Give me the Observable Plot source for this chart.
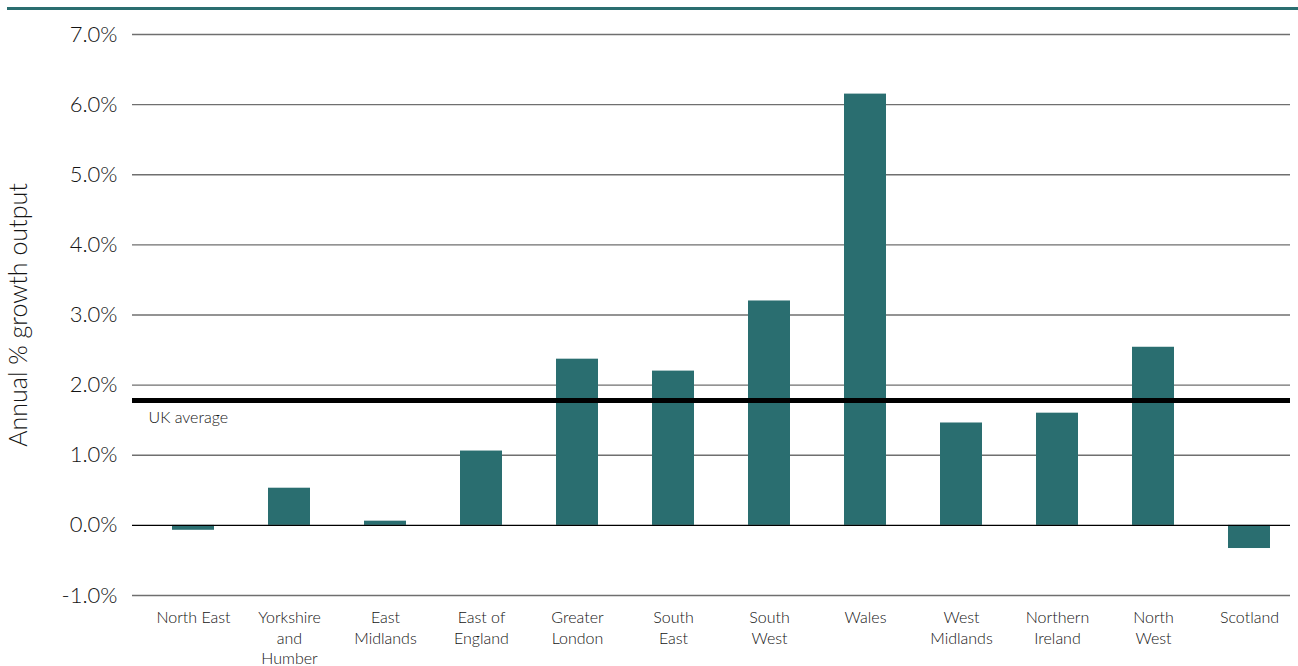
<!DOCTYPE html>
<html>
<head>
<meta charset="utf-8">
<script src="https://cdn.jsdelivr.net/npm/d3@7"></script>
<script src="https://cdn.jsdelivr.net/npm/@observablehq/plot@0.6"></script>
<style>
  html, body { margin: 0; padding: 0; background: #fff; }
  #wrap { position: relative; width: 1298px; height: 666px; }
  #topline { position: absolute; left: 7px; right: 0; top: 7px; height: 3px; background: #2a6e70; }
  svg { font-family: Lato, "Open Sans", sans-serif; }
</style>
</head>
<body>
<div id="wrap"><div id="topline"></div></div>
<script>
// Regions in display order
const regions = [
  "North East", "Yorkshire and Humber", "East Midlands", "East of England",
  "Greater London", "South East", "South West", "Wales",
  "West Midlands", "Northern Ireland", "North West", "Scotland"
];
// Axis labels for each region, broken over lines
const regionLabels = [
  "North East", "Yorkshire\nand\nHumber", "East\nMidlands", "East of\nEngland",
  "Greater\nLondon", "South\nEast", "South\nWest", "Wales",
  "West\nMidlands", "Northern\nIreland", "North\nWest", "Scotland"
];
// Annual % growth in output
const growth = [-0.07, 0.53, 0.06, 1.06, 2.37, 2.20, 3.20, 6.15, 1.46, 1.60, 2.54, -0.33];
const ukAverage = 1.78;
const yTicks = [-1, 0, 1, 2, 3, 4, 5, 6, 7];

const data = regions.map((r, i) => ({region: r, value: growth[i]}));
const labelOf = new Map(regions.map((r, i) => [r, regionLabels[i]]));

const teal = "#2a6e70";
const ink = "#141414";

const chart = Plot.plot({
  width: 1298,
  height: 666,
  marginLeft: 132,
  marginRight: 8,
  marginTop: 34,
  marginBottom: 71,
  style: {fontFamily: "Lato, 'Open Sans', sans-serif", fontWeight: 300, color: ink, background: "transparent"},
  x: {domain: regions, range: [141, 1300], paddingInner: 0.565, paddingOuter: 0.2825, label: null},
  y: {domain: [-1, 7], label: null},
  marks: [
    Plot.ruleY(yTicks.filter(d => d !== 0), {stroke: "#6f6f6f", strokeWidth: 1.3}),
    Plot.barY(data, {x: "region", y: "value", fill: teal}),
    Plot.ruleY([0], {stroke: "#000", strokeWidth: 1.3}),
    Plot.ruleY([ukAverage], {stroke: "#000", strokeWidth: 5}),
    Plot.text([ukAverage], {
      y: d => d, frameAnchor: "left", dx: 16, dy: 17, text: () => "UK average",
      textAnchor: "start", fontSize: 16, fill: ink
    }),
    Plot.axisY({
      ticks: yTicks, tickSize: 0, tickPadding: 15, fontSize: 22,
      tickFormat: d => d.toFixed(1) + "%", label: null
    }),
    Plot.text(["Annual % growth output"], {
      frameAnchor: "left", rotate: -90, dx: -114, text: d => d,
      textAnchor: "middle", fontSize: 25, fill: ink
    }),
    Plot.axisX({
      tickSize: 0, tickPadding: 13, fontSize: 16, lineHeight: 1.28,
      tickFormat: d => labelOf.get(d), label: null
    })
  ]
});
document.getElementById("wrap").appendChild(chart);
</script>
</body>
</html>
